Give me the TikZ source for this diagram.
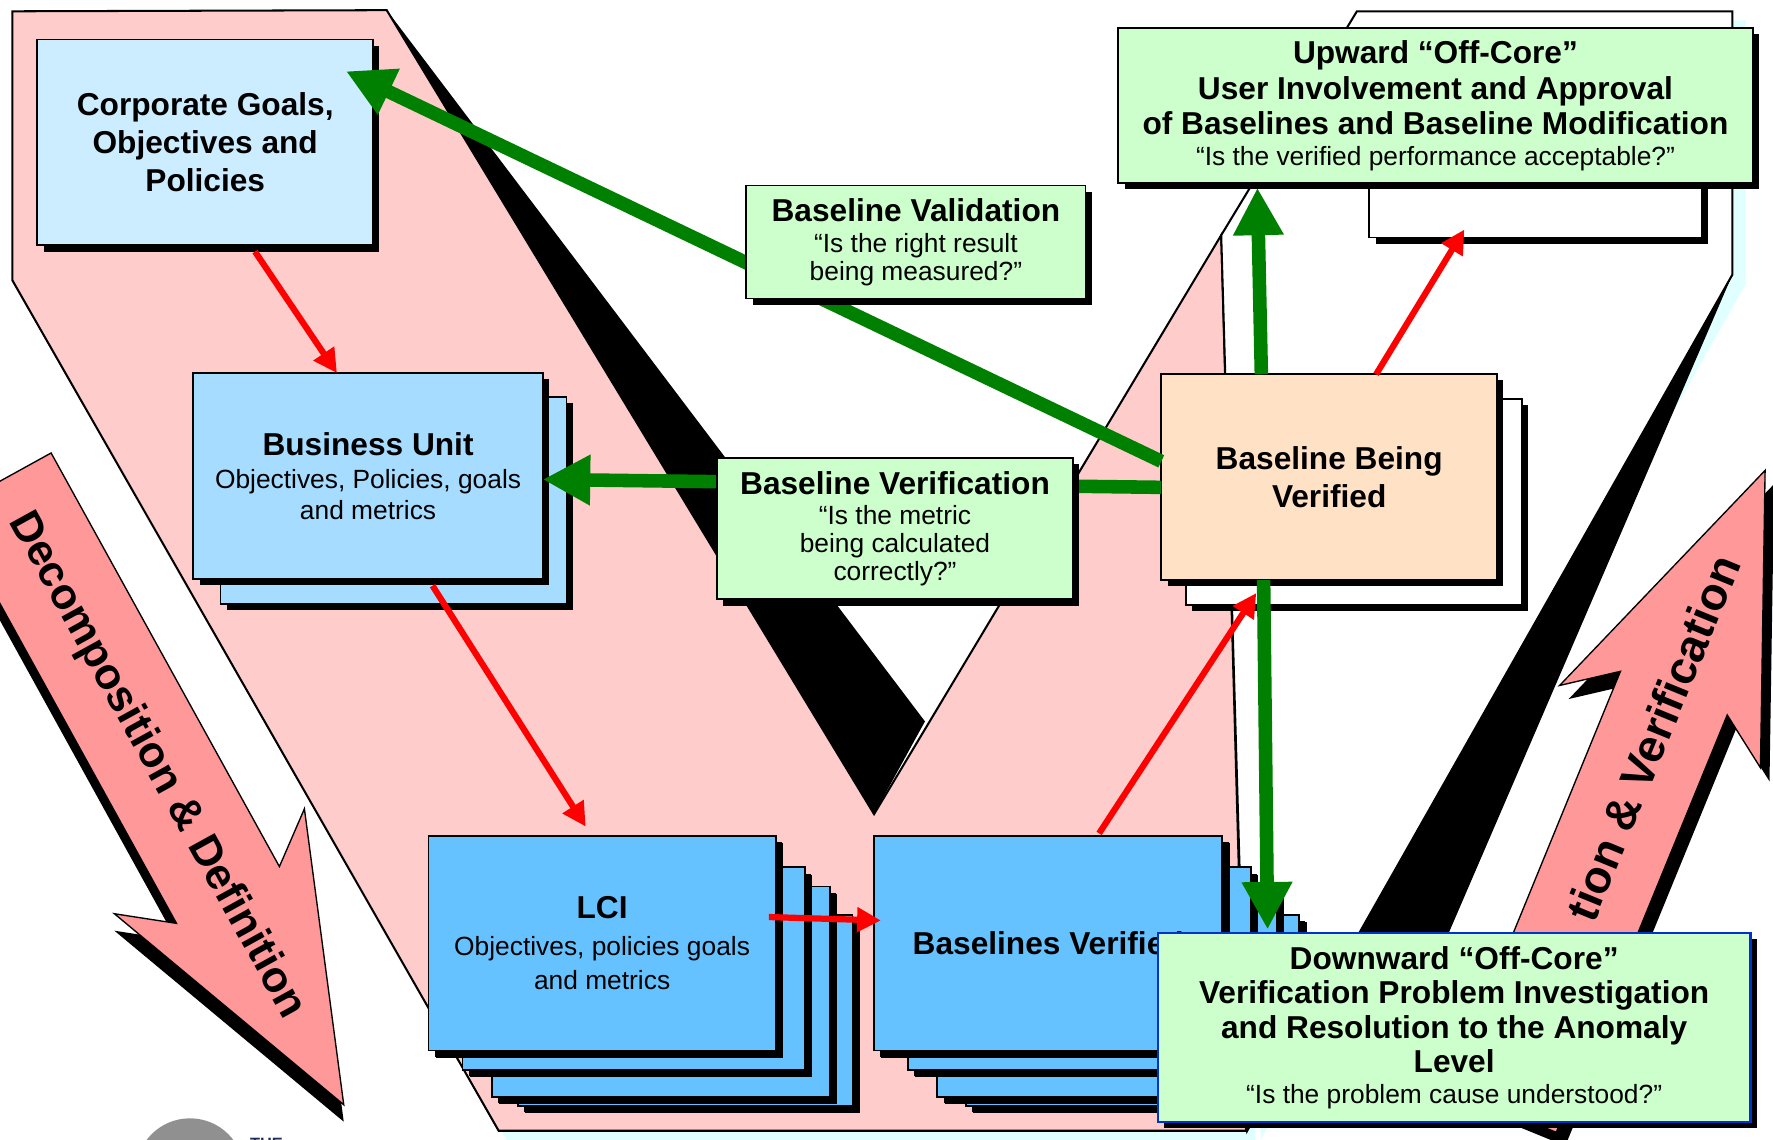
\documentclass[tikz,border=0pt]{standalone}
\usepackage{fontspec}
\setmainfont{Liberation Sans}
\usetikzlibrary{arrows.meta,shadows}

\definecolor{vpink}{HTML}{FFCCCC}
\definecolor{arrpink}{HTML}{FF9999}
\definecolor{skyA}{HTML}{CCECFF}
\definecolor{skyB}{HTML}{A6DCFF}
\definecolor{skyC}{HTML}{66C2FF}
\definecolor{mint}{HTML}{CCFFCC}
\definecolor{peach}{HTML}{FFE2C6}
\definecolor{vgreen}{HTML}{008000}
\definecolor{haze}{HTML}{E0FFFF}
\definecolor{frameblue}{HTML}{0033CC}
\definecolor{logogray}{HTML}{909090}
\definecolor{navy}{HTML}{1F2A5C}

\newcommand{\boxhead}[1]{{\bfseries\fontsize{28}{28}\selectfont #1}}

\begin{document}
\begin{tikzpicture}[x=1pt,y=-1pt,
  panel/.style={draw=black, line width=1.6pt, inner sep=0pt, outer sep=0pt,
    anchor=north west, align=center,
    general shadow={fill=black, shadow xshift=5.5pt, shadow yshift=-5.5pt}},
  stackshadow/.style={general shadow={fill=black, shadow xshift=6.5pt, shadow yshift=-6.5pt}},
  bodyfont/.style={font=\fontsize{23.3}{#1}\selectfont},
  greenarrow/.style={draw=vgreen, line width=12pt, -{Triangle[length=42pt,width=42pt]}},
  redarrow/.style={draw=red, line width=5.5pt, -{Triangle[length=21pt,width=21pt]}},
  bigarrow/.style={fill=arrpink, draw=black, line width=1.2pt, line join=miter},
  vshape/.style={draw=black, line width=1.8pt, line join=miter}]

\useasboundingbox (0,0) rectangle (1568,1008);
\clip (0,0) rectangle (1568,1008);

% ---------- the V: soft shadows ----------
\fill[haze, shift={(8,10)}] (11,10) -- (342,9) -- (773,720) -- (1080,208) -- (1102,1000) -- (441,1000) -- (11,248) -- cycle;
\fill[haze, shift={(12,8)}] (1080,208) -- (1200,10) -- (1532,10) -- (1532,243) -- (1103,1000) -- cycle;

% left arm and base
\filldraw[vshape, fill=vpink] (11,10) -- (342,9) -- (773,720) -- (1080,208) -- (1102,1000) -- (441,1000) -- (11,248) -- cycle;
% extrusion of the notch
\fill[black] (342,9) -- (773,720) -- (818,638) -- cycle;
% extrusion of the right arm
\fill[black] (1532,243) -- (1105,995) -- (1208,995) -- cycle;
% right arm
\filldraw[vshape, fill=white] (1080,208) -- (1200,10) -- (1532,10) -- (1532,243) -- (1103,1000) -- cycle;

% ---------- big direction arrows ----------
\fill[black, shift={(0,15)}] (45.2,400.6) -- (247.1,766.4) -- (269.2,715.3) -- (304,977) -- (101.2,808.1) -- (156.1,816.6) -- (-45.8,450.8) -- cycle;
\filldraw[bigarrow] (45.2,400.6) -- (247.1,766.4) -- (269.2,715.3) -- (304,977) -- (101.2,808.1) -- (156.1,816.6) -- (-45.8,450.8) -- cycle;
\node[rotate=-61.1, font=\bfseries\fontsize{38.5}{38.5}\selectfont, inner sep=0pt] (decomp) at (138.5,677) {Decomposition \& Definition};

\fill[black, shift={(8,12)}] (1561,416) -- (1556.9,679) -- (1527.5,632.3) -- (1376.3,1001.4) -- (1281.9,962.8) -- (1433.1,593.7) -- (1379.3,606.2) -- cycle;
\filldraw[bigarrow] (1561,416) -- (1556.9,679) -- (1527.5,632.3) -- (1376.3,1001.4) -- (1281.9,962.8) -- (1433.1,593.7) -- (1379.3,606.2) -- cycle;
\node[rotate=67.7, anchor=east, font=\bfseries\fontsize{40.5}{40.5}\selectfont, inner sep=0pt] (integ) at (1527,493) {tion \& Verification};

% ---------- logo fragment ----------
\fill[logogray] (168,1037) circle[radius=48];
\node[anchor=base west, inner sep=0pt, text=navy, font=\bfseries\fontsize{14.5}{14.5}\selectfont] (logo) at (221,1017) {THE};

% ---------- level boxes ----------
\node[panel, fill=skyA, minimum width=297pt, minimum height=182pt,
      font=\bfseries\fontsize{28}{33.5}\selectfont] (corp) at (33,35)
  {Corporate Goals,\\Objectives and\\Policies};

\node[panel, fill=skyB, minimum width=306pt, minimum height=183pt] (bu2) at (195,351) {};
\node[panel, fill=skyB, minimum width=309pt, minimum height=182pt, bodyfont=27.7] (bu1) at (171,330)
  {\boxhead{Business Unit}\\[1.3pt]Objectives, Policies, goals\\and metrics};

\node[panel, stackshadow, fill=skyC, minimum width=296pt, minimum height=169pt] (lci4) at (458,809) {};
\node[panel, stackshadow, fill=skyC, minimum width=299pt, minimum height=186pt] (lci3) at (435,784) {};
\node[panel, stackshadow, fill=skyC, minimum width=303pt, minimum height=179pt] (lci2) at (409,767) {};
\node[panel, stackshadow, fill=skyC, minimum width=307pt, minimum height=190pt, bodyfont=29.5] (lci1) at (379,739)
  {\boxhead{LCI}\\[3pt]Objectives, policies goals\\and metrics};

\node[panel, stackshadow, fill=skyC, minimum width=295pt, minimum height=169pt] (bv4) at (854,809) {};
\node[panel, stackshadow, fill=skyC, minimum width=300pt, minimum height=186pt] (bv3) at (829,784) {};
\node[panel, stackshadow, fill=skyC, minimum width=303pt, minimum height=179pt] (bv2) at (803,767) {};
\node[panel, stackshadow, fill=skyC, minimum width=308pt, minimum height=190pt] (bv1) at (773,739)
  {\boxhead{Baselines Verified}};

\node[panel, fill=white, minimum width=297pt, minimum height=182pt] (bbv2) at (1049,353) {};
\node[panel, fill=peach, minimum width=297pt, minimum height=182pt,
      font=\bfseries\fontsize{28}{34}\selectfont] (bbv) at (1027,331)
  {Baseline Being\\Verified};

\node[panel, fill=white, minimum width=294pt, minimum height=170pt] (upback) at (1211,40) {};
\node[panel, fill=mint, minimum width=561pt, minimum height=137pt, bodyfont=31.5] (upw) at (989,25)
  {\boxhead{Upward “Off-Core”}\\\boxhead{User Involvement and Approval}\\\boxhead{of Baselines and Baseline Modification}\\[-4.5pt]“Is the verified performance acceptable?”};

% ---------- decomposition / integration links ----------
\draw[redarrow] ([xshift=44pt,yshift=-5.5pt]corp.south) -- ([xshift=-27.5pt]bu1.north);
\draw[redarrow] ([xshift=57pt,yshift=-6pt]bu1.south) -- ([xshift=-14.5pt,yshift=8pt]lci1.north);
\draw[redarrow] ([xshift=-6pt,yshift=23pt]lci1.east) -- ([xshift=6pt,yshift=20pt]bv1.west);
\draw[redarrow] ([xshift=45pt,yshift=2pt]bv1.north) -- ([xshift=-86.5pt,yshift=10.5pt]bbv2.south);
\draw[redarrow] ([xshift=41.5pt]bbv.north) -- ([xshift=-63pt,yshift=7pt]upback.south);

% ---------- validation / verification feedback ----------
\draw[greenarrow] ([yshift=14pt]bbv.west) -- ([xshift=-24pt,yshift=-28pt]corp.north east);
\draw[greenarrow] ([yshift=-9pt]bbv.west) -- ([yshift=-3pt]bu1.east);
\draw[greenarrow] ([xshift=-60pt]bbv.north) -- ([xshift=-157.5pt,yshift=-4pt]upw.south);
\draw[greenarrow] ([xshift=-58pt]bbv.south) -- (1121,822);

% ---------- question labels ----------
\node[panel, fill=mint, minimum width=300pt, minimum height=100pt, bodyfont=24.5] (bval) at (660,164)
  {\boxhead{Baseline Validation}\\[3pt]“Is the right result\\being measured?”};
\node[panel, fill=mint, minimum width=315pt, minimum height=125pt, bodyfont=25] (bver) at (634,405)
  {\boxhead{Baseline Verification}\\[1.5pt]“Is the metric\\being calculated\\correctly?”};
\node[panel, draw=frameblue, line width=2pt, fill=mint, minimum width=524pt, minimum height=167pt, bodyfont=30.5] (down) at (1024,825)
  {\boxhead{Downward “Off-Core”}\\\boxhead{Verification Problem Investigation}\\\boxhead{and Resolution to the Anomaly}\\\boxhead{Level}\\[-3.5pt]“Is the problem cause understood?”};

\end{tikzpicture}
\end{document}
